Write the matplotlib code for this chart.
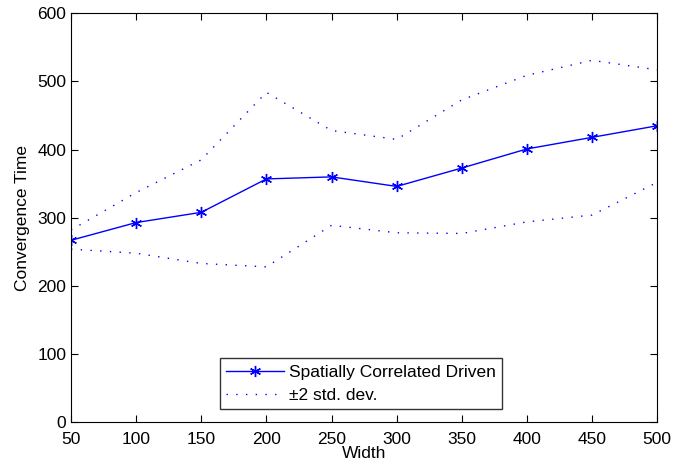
import numpy as np
import matplotlib.pyplot as plt

plt.rcParams['font.family'] = ['Liberation Sans', 'DejaVu Sans']

width = [50, 100, 150, 200, 250, 300, 350, 400, 450, 500]
mean_time = [267, 293, 308, 357, 360, 346, 373, 401, 418, 435]
upper = [282, 337, 385, 484, 428, 415, 473, 509, 531, 517]
lower = [254, 248, 233, 228, 289, 278, 277, 294, 304, 352]

fig = plt.figure(figsize=(6.86, 4.66), dpi=100)
ax = fig.add_axes([0.1035, 0.0938, 0.8545, 0.8777])

ax.plot(width, mean_time, color='b', lw=1, marker=(6, 2, 0), ms=8,
        mew=1, label='Spatially Correlated Driven')
ax.plot(width, upper, color='b', lw=1, ls=(0, (1, 6)), label='±2 std. dev.')
ax.plot(width, lower, color='b', lw=1, ls=(0, (1, 6)))

ax.set_xlim(50, 500)
ax.set_ylim(0, 600)
ax.set_xticks(width)
ax.set_yticks(np.arange(0, 601, 100))
ax.tick_params(direction='in', top=True, right=True, labelsize=12.5, length=5)
ax.tick_params(axis='x', pad=7)
ax.set_xlabel('Width', fontsize=12.5, labelpad=-1)
ax.set_ylabel('Convergence Time', fontsize=12.5, labelpad=5)

leg = ax.legend(loc='lower center', bbox_to_anchor=(0.495, 0.012), fontsize=12.5,
                frameon=True, fancybox=False, edgecolor='k', handlelength=3.3,
                handletextpad=0.3, borderpad=0.35, labelspacing=0.45)
leg.get_frame().set_linewidth(1)

fig.savefig('out.png')
